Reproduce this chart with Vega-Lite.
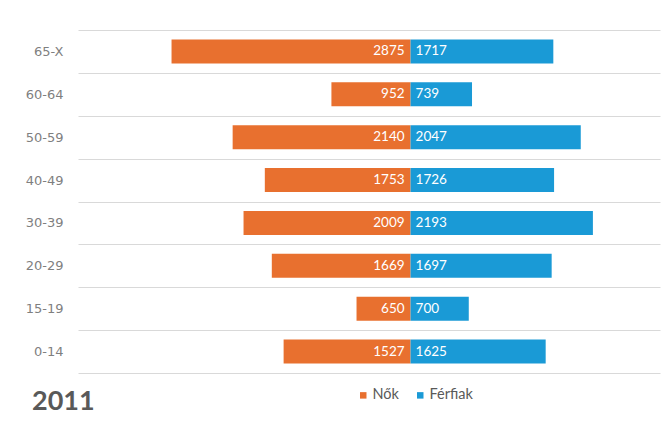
{
  "$schema": "https://vega.github.io/schema/vega-lite/v6.json",
  "width": 582,
  "height": 343,
  "autosize": "none",
  "padding": {"left": 78, "top": 30, "right": 4, "bottom": 50},
  "background": "white",
  "config": {"view": {"stroke": null}, "font": "Lato"},
  "title": {"text": "2011", "orient": "bottom", "anchor": "start", "frame": "group", "fontSize": 27, "fontWeight": "bold", "color": "#595959", "dx": -46, "offset": -13, "font": "Lato"},
  "data": {"values": [
    {"age": "65-X", "sex": "Nők", "value": 2875},
    {"age": "65-X", "sex": "Férfiak", "value": 1717},
    {"age": "60-64", "sex": "Nők", "value": 952},
    {"age": "60-64", "sex": "Férfiak", "value": 739},
    {"age": "50-59", "sex": "Nők", "value": 2140},
    {"age": "50-59", "sex": "Férfiak", "value": 2047},
    {"age": "40-49", "sex": "Nők", "value": 1753},
    {"age": "40-49", "sex": "Férfiak", "value": 1726},
    {"age": "30-39", "sex": "Nők", "value": 2009},
    {"age": "30-39", "sex": "Férfiak", "value": 2193},
    {"age": "20-29", "sex": "Nők", "value": 1669},
    {"age": "20-29", "sex": "Férfiak", "value": 1697},
    {"age": "15-19", "sex": "Nők", "value": 650},
    {"age": "15-19", "sex": "Férfiak", "value": 700},
    {"age": "0-14", "sex": "Nők", "value": 1527},
    {"age": "0-14", "sex": "Férfiak", "value": 1625}
  ]},
  "encoding": {
    "y": {"field": "age", "type": "nominal", "sort": ["65-X", "60-64", "50-59", "40-49", "30-39", "20-29", "15-19", "0-14"],
      "scale": {"paddingInner": 0, "paddingOuter": 0},
      "axis": {"title": null, "tickBand": "extent", "grid": true, "gridColor": "#d9d9d9", "gridWidth": 1, "ticks": false, "domain": false, "labelPadding": 15, "labelColor": "#7f7f7f", "labelFontSize": 13, "labelFont": "DejaVu Sans"}}
  },
  "layer": [
    {
      "transform": [{"filter": "datum.sex === 'Nők'"}],
      "encoding": {
        "x": {"field": "value", "type": "quantitative", "scale": {"domain": [-3000, 4000], "reverse": true, "nice": false, "zero": false}, "axis": null}
      },
      "layer": [
        {"mark": {"type": "bar", "height": {"band": 0.56}},
         "encoding": {
           "x2": {"datum": 0},
           "color": {"field": "sex", "type": "nominal", "scale": {"domain": ["Nők", "Férfiak"], "range": ["#E8702F", "#1A9AD6"]},
             "legend": {"title": null, "orient": "none", "direction": "horizontal", "legendX": 278, "legendY": 358, "symbolType": "square", "symbolSize": 42, "labelFontSize": 14.5, "labelColor": "#595959", "labelFont": "Lato", "columnPadding": 14, "labelOffset": 2}}
         }},
        {"mark": {"type": "text", "align": "right", "dx": -6, "color": "white", "fontSize": 13.5, "baseline": "middle"},
         "encoding": {"x": {"datum": 0}, "text": {"field": "value", "type": "quantitative"}}}
      ]
    },
    {
      "transform": [{"filter": "datum.sex === 'Férfiak'"}],
      "encoding": {
        "x": {"field": "value", "type": "quantitative", "scale": {"domain": [-4000, 3000], "nice": false, "zero": false}, "axis": null}
      },
      "layer": [
        {"mark": {"type": "bar", "height": {"band": 0.56}},
         "encoding": {
           "x2": {"datum": 0},
           "color": {"field": "sex", "type": "nominal", "scale": {"domain": ["Nők", "Férfiak"], "range": ["#E8702F", "#1A9AD6"]}}
         }},
        {"mark": {"type": "text", "align": "left", "dx": 5, "color": "white", "fontSize": 13.5, "baseline": "middle"},
         "encoding": {"x": {"datum": 0}, "text": {"field": "value", "type": "quantitative"}}},
        {"mark": {"type": "rule", "color": "#d9d9d9", "strokeWidth": 1},
         "encoding": {"x": {"datum": 0}}}
      ]
    }
  ],
  "resolve": {"scale": {"x": "independent"}}
}
